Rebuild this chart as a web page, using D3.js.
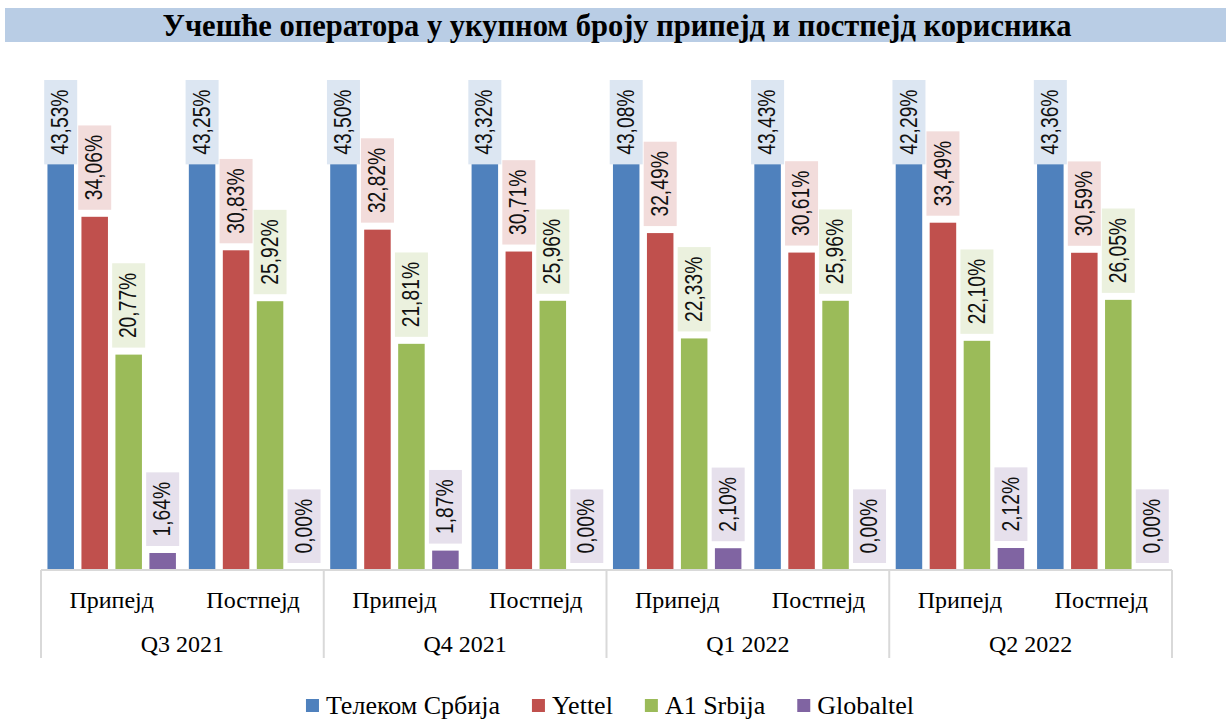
<!DOCTYPE html>
<html>
<head>
<meta charset="utf-8">
<script src="https://cdn.jsdelivr.net/npm/d3@7"></script>
<style>
  body { margin: 0; background: #fff; }
  svg { display: block; }
</style>
</head>
<body>
<div id="chart"></div>
<script>
// Chart values
var quarters = ["Q3 2021", "Q4 2021", "Q1 2022", "Q2 2022"];
var userTypes = ["Припејд", "Постпејд"];
var seriesNames = ["Телеком Србија", "Yettel", "A1 Srbija", "Globaltel"];
var telekom = [43.53, 43.25, 43.50, 43.32, 43.08, 43.43, 42.29, 43.36];
var yettel = [34.06, 30.83, 32.82, 30.71, 32.49, 30.61, 33.49, 30.59];
var a1 = [20.77, 25.92, 21.81, 25.96, 22.33, 25.96, 22.10, 26.05];
var globaltel = [1.64, 0.00, 1.87, 0.00, 2.10, 0.00, 2.12, 0.00];

var seriesValues = [telekom, yettel, a1, globaltel];
var colors = ["#4f81bd", "#c0504d", "#9bbb59", "#8064a2"];
var labelFills = ["#dce6f2", "#f2dcdb", "#ebf1de", "#e6e0ec"];

var width = 1226;
var height = 719;
var plotLeft = 41, plotRight = 1172, baseY = 570, plotTop = 80;

var svg = d3.select("#chart")
  .append("svg")
  .attr("width", width)
  .attr("height", height);

// Title band
svg.append("rect")
  .attr("x", 5).attr("y", 8)
  .attr("width", width - 5).attr("height", 34)
  .attr("fill", "#b9cde5");

svg.append("text")
  .attr("x", 617).attr("y", 36)
  .attr("text-anchor", "middle")
  .style("font-family", "'Liberation Serif', serif")
  .style("font-weight", "bold")
  .style("font-size", "30.5px")
  .text("Учешће оператора у укупном броју припејд и постпејд корисника");

// one slot per quarter/type pair
var slots = d3.range(quarters.length * userTypes.length);

var x0 = d3.scaleBand()
  .domain(slots)
  .range([plotLeft, plotRight]);

var x1 = d3.scaleBand()
  .domain(d3.range(seriesNames.length))
  .range([0, x0.bandwidth()])
  .paddingInner(0.22)
  .paddingOuter(0.19);

var y = d3.scaleLinear()
  .domain([0, 50])
  .range([baseY, baseY - 518.5]);

var fmt = function(v) { return d3.format(".2f")(v).replace(".", ",") + "%"; };

var barData = [];
seriesValues.forEach(function(vals, s) {
  vals.forEach(function(v, i) {
    barData.push({ s: s, i: i, value: v });
  });
});

// Bars
svg.append("g")
  .selectAll("rect")
  .data(barData)
  .enter()
  .append("rect")
  .attr("x", function(d) { return x0(d.i) + x1(d.s); })
  .attr("y", function(d) { return y(d.value); })
  .attr("width", x1.bandwidth())
  .attr("height", function(d) { return baseY - y(d.value); })
  .attr("fill", function(d) { return colors[d.s]; });

// Data labels (rotated, with tinted boxes), text squeezed a bit to look narrow
var squeeze = 0.82;
var labels = svg.append("g")
  .selectAll("g")
  .data(barData)
  .enter()
  .append("g");

labels.append("rect");
labels.append("text")
  .attr("text-anchor", "middle")
  .attr("dominant-baseline", "central")
  .style("font-family", "'Liberation Sans', Arial, sans-serif")
  .style("font-size", "23.5px")
  .attr("fill", "#111")
  .text(function(d) { return fmt(d.value); });

labels.each(function(d) {
  var g = d3.select(this);
  var len = g.select("text").node().getComputedTextLength() * squeeze;
  var h = len + 19, w = 33;
  var cx = x0(d.i) + x1(d.s) + x1.bandwidth() / 2;
  var bottom = y(d.value) - 7;
  var top = Math.max(plotTop, bottom - h);
  var cy = top + h / 2;
  g.select("rect")
    .attr("x", cx - w / 2).attr("y", top)
    .attr("width", w).attr("height", h)
    .attr("fill", labelFills[d.s]);
  g.select("text")
    .attr("transform", "translate(" + cx + "," + cy + ") rotate(-90) scale(" + squeeze + ",1)");
});

// Axis lines
var axis = svg.append("g").attr("stroke", "#d9d9d9").attr("stroke-width", 2);
axis.append("line")
  .attr("x1", plotLeft).attr("x2", plotRight)
  .attr("y1", baseY).attr("y2", baseY);
axis.selectAll("line.div")
  .data(d3.range(quarters.length + 1))
  .enter()
  .append("line")
  .attr("class", "div")
  .attr("x1", function(d) { return d < quarters.length ? x0(d * 2) : plotRight; })
  .attr("x2", function(d) { return d < quarters.length ? x0(d * 2) : plotRight; })
  .attr("y1", baseY).attr("y2", 658);

// Category labels
svg.append("g")
  .selectAll("text")
  .data(slots)
  .enter()
  .append("text")
  .attr("x", function(d) { return x0(d) + x0.bandwidth() / 2; })
  .attr("y", 608)
  .attr("text-anchor", "middle")
  .style("font-family", "'Liberation Serif', serif")
  .style("font-size", "24px")
  .text(function(d) { return userTypes[d % 2]; });

svg.append("g")
  .selectAll("text")
  .data(quarters)
  .enter()
  .append("text")
  .attr("x", function(d, i) { return x0(i * 2) + x0.bandwidth(); })
  .attr("y", 652)
  .attr("text-anchor", "middle")
  .style("font-family", "'Liberation Serif', serif")
  .style("font-size", "24px")
  .text(function(d) { return d; });

// Legend
var legend = svg.append("g");
var items = legend.selectAll("g")
  .data(seriesNames)
  .enter()
  .append("g");
items.append("rect")
  .attr("width", 13).attr("height", 13)
  .attr("y", 699)
  .attr("fill", function(d, i) { return colors[i]; });
items.append("text")
  .attr("x", 20).attr("y", 714)
  .style("font-family", "'Liberation Serif', serif")
  .style("font-size", "26px")
  .text(function(d) { return d; });

var pos = 0, offsets = [];
items.each(function() {
  offsets.push(pos);
  pos += 20 + d3.select(this).select("text").node().getComputedTextLength() + 32;
});
var total = pos - 32;
var startX = 610 - total / 2;
items.attr("transform", function(d, i) { return "translate(" + (startX + offsets[i]) + ",0)"; });
</script>
</body>
</html>
